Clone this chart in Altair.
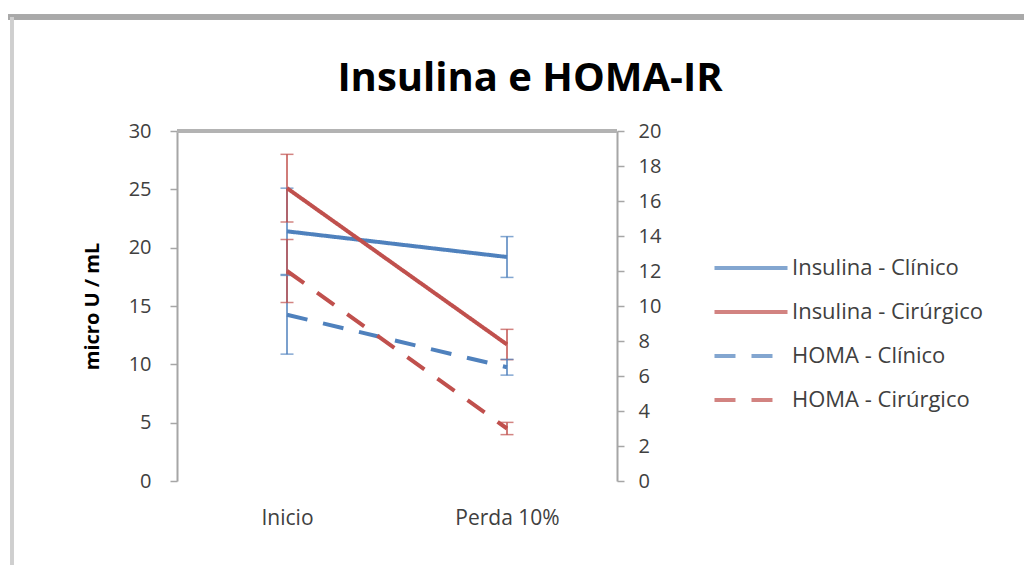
import altair as alt
import pandas as pd

# ---- data ----
categories = ["Inicio", "Perda 10%"]
series_names = ["Insulina - Clínico", "Insulina - Cirúrgico", "HOMA - Clínico", "HOMA - Cirúrgico"]

ins_clinico = [21.4, 19.2]
ins_clinico_err = [3.7, 1.75]
ins_cirurgico = [25.1, 11.7]
ins_cirurgico_err = [2.9, 1.3]
homa_clinico = [9.5, 6.5]
homa_clinico_err = [2.25, 0.45]
homa_cirurgico = [12.0, 3.0]
homa_cirurgico_err = [1.8, 0.35]

series_axis = ["left", "left", "right", "right"]
series_colors = ["#4F81BD", "#C0504D", "#4F81BD", "#C0504D"]
series_dashes = [[1, 0], [1, 0], [21, 16], [21, 16]]

left_ticks = [0, 5, 10, 15, 20, 25, 30]
right_ticks = [0, 2, 4, 6, 8, 10, 12, 14, 16, 18, 20]

values = [ins_clinico, ins_cirurgico, homa_clinico, homa_cirurgico]
errors = [ins_clinico_err, ins_cirurgico_err, homa_clinico_err, homa_cirurgico_err]

rows = []
for name, ax, vals, errs in zip(series_names, series_axis, values, errors):
    for cat, v, e in zip(categories, vals, errs):
        rows.append({"categoria": cat, "serie": name, "eixo": ax,
                     "valor": v, "lo": v - e, "hi": v + e})
df = pd.DataFrame(rows)

FONT = "Open Sans"
TXT = "#404040"
AXC = "#a6a6a6"

x_enc = alt.X("categoria:N", sort=categories,
              scale=alt.Scale(type="point", padding=0.5),
              axis=alt.Axis(title=None, labelAngle=0, domain=False, ticks=False,
                            labelFontSize=21, labelColor=TXT, labelFont=FONT,
                            labelPadding=26))

legend = alt.Legend(title=None, orient="none", legendX=557, legendY=120,
                    symbolType="M-2.5,0H2.5", symbolSize=853, symbolStrokeWidth=4,
                    labelFontSize=22, labelFont=FONT, labelColor=TXT, labelLimit=400,
                    labelOffset=24, rowPadding=16, padding=0)

color_enc = alt.Color("serie:N", scale=alt.Scale(domain=series_names, range=series_colors),
                      legend=legend)
dash_enc = alt.StrokeDash("serie:N", scale=alt.Scale(domain=series_names, range=series_dashes),
                          legend=legend)


def panel(axis_side, domain, axis_obj):
    base = alt.Chart(df).transform_filter(alt.datum.eixo == axis_side)
    sc = alt.Scale(domain=domain, nice=False, zero=True)
    lines = base.mark_line(strokeWidth=4).encode(
        x=x_enc, y=alt.Y("valor:Q", scale=sc, axis=axis_obj), color=color_enc, strokeDash=dash_enc)
    bars = base.mark_rule(strokeWidth=1.5).encode(
        x=x_enc, y=alt.Y("lo:Q", scale=sc, axis=axis_obj), y2="hi:Q", color=color_enc)
    cap_lo = base.mark_tick(size=13, thickness=1.5).encode(
        x=x_enc, y=alt.Y("lo:Q", scale=sc, axis=axis_obj), color=color_enc)
    cap_hi = base.mark_tick(size=13, thickness=1.5).encode(
        x=x_enc, y=alt.Y("hi:Q", scale=sc, axis=axis_obj), color=color_enc)
    return alt.layer(bars, cap_lo, cap_hi, lines)


left_axis = alt.Axis(values=left_ticks, title="micro U / mL", titleFontSize=20,
                     titleFontWeight="bold", titleFont=FONT, titleColor="#000000",
                     titlePadding=26, grid=False, domainColor=AXC, domainWidth=2,
                     tickColor=AXC, tickSize=7, tickWidth=1.5, labelOverlap=False,
                     labelFontSize=20, labelFont=FONT, labelColor=TXT, labelPadding=19)
right_axis = alt.Axis(values=right_ticks, orient="right", title=None, grid=False,
                      domainColor=AXC, domainWidth=2, tickColor=AXC, tickSize=7,
                      tickWidth=1.5, labelOverlap=False, labelFontSize=20, labelFont=FONT,
                      labelColor=TXT, labelPadding=14)

left_panel = panel("left", [0, 30], left_axis)
shadow = alt.Chart(df).mark_rule(color="#b3b3b3", strokeWidth=4).encode(
    y=alt.Y(datum=30, scale=alt.Scale(domain=[0, 30], nice=False), axis=left_axis))
left_panel = alt.layer(shadow, left_panel)
right_panel = panel("right", [0, 20], right_axis)

frame_top = alt.Chart(df).mark_rule(color="#a9a9a9", strokeWidth=5).encode(
    x=alt.value(-169), x2=alt.value(847), y=alt.value(-114))
frame_left = alt.Chart(df).mark_rule(color="#cfcfcf", strokeWidth=3).encode(
    x=alt.value(-165), y=alt.value(-114), y2=alt.value(440))

chart = alt.layer(frame_top, frame_left, left_panel, right_panel).resolve_scale(
    y="independent"
).properties(
    width=440, height=350,
    autosize=alt.AutoSizeParams(type="none"),
    padding={"left": 169, "top": 123, "right": 407, "bottom": 84},
    title=alt.Title("Insulina e HOMA-IR", font=FONT, fontSize=40, fontWeight="bold",
                    color="#000000", anchor="middle", frame="group", dx=133,
                    offset=0, baseline="alphabetic", dy=116),
    background="white",
).configure_view(stroke=None)

chart.save("out.html", embed_options={"renderer": "svg", "actions": False})
